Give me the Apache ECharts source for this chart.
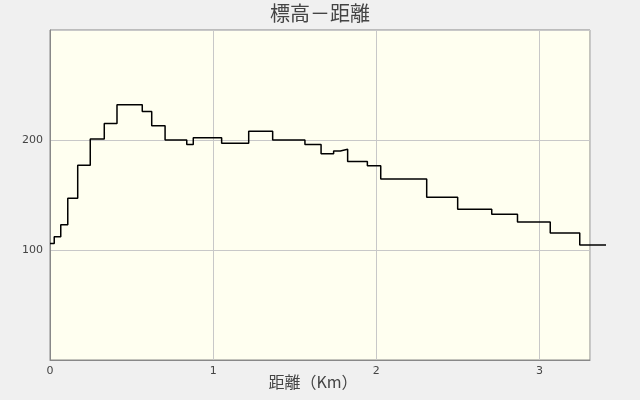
<!DOCTYPE html>
<html>
<head>
<meta charset="utf-8">
<script src="https://cdn.jsdelivr.net/npm/echarts@6/dist/echarts.min.js"></script>
<style>
html, body { margin: 0; padding: 0; background: #f0f0f0; }
#main { width: 640px; height: 400px; }
</style>
</head>
<body>
<div id="main"></div>
<script>
// 距離 (km) と 標高 (m)
var distKm = [0.0, 0.026, 0.066, 0.109, 0.170, 0.247, 0.333, 0.411, 0.566, 0.624,
              0.706, 0.839, 0.879, 1.053, 1.219, 1.366, 1.564, 1.663, 1.740, 1.781,
              1.826, 1.947, 2.029, 2.311, 2.501, 2.710, 2.868, 3.069, 3.250, 3.411];
var elevM = [106, 112, 123, 147, 177, 201, 215, 232, 226, 213,
             200, 196, 202, 197, 208, 200, 196, 187.5, 190, 191.5,
             180.5, 176.5, 164.5, 148, 137, 132.5, 125.5, 115.5, 104.5, 104.5];
var xTicks = [0, 1, 2, 3];
var yTicks = [100, 200];

var points = [];
for (var i = 0; i < distKm.length; i++) {
    points.push([distKm[i], elevM[i]]);
}

var xMax = 3.31;   // 表示範囲
var lastKm = distKm[distKm.length - 1];
// 線は枠の外まではみ出すので、同じ縮尺の透明なグリッドに描く
var plotW = 540;
var extraW = Math.round(plotW * (lastKm - xMax) / xMax);

var option = {
    backgroundColor: '#f0f0f0',
    animation: false,
    title: {
        text: '標高－距離',
        left: 'center',
        top: -2,
        textStyle: {
            color: '#444',
            fontFamily: 'Noto Sans CJK JP',
            fontSize: 20,
            fontWeight: 'normal'
        }
    },
    grid: [
        {
            left: 50,
            right: 50,
            top: 30,
            bottom: 40,
            outerBoundsMode: 'none',
            containLabel: false,
            show: true,
            backgroundColor: '#fffff0',
            borderColor: '#888',
            borderWidth: 1
        },
        {
            left: 50,
            right: 50 - extraW,
            top: 30,
            bottom: 40,
            outerBoundsMode: 'none',
            containLabel: false,
            show: false
        }
    ],
    xAxis: [
        {
            type: 'value',
            gridIndex: 0,
            min: 0,
            max: xMax,
            interval: 1,
            name: '距離（Km）',
            nameLocation: 'middle',
            nameGap: 14,
            nameMoveOverlap: false,
            nameTextStyle: {
                color: '#444',
                fontFamily: 'Noto Sans CJK JP',
                fontSize: 16,
                padding: [0, 14, 0, 0]
            },
            axisLine: { show: true, lineStyle: { color: '#888' } },
            axisTick: { show: false },
            axisLabel: {
                showMaxLabel: false,
                margin: 6,
                color: '#444',
                fontFamily: 'DejaVu Sans',
                fontSize: 11,
                formatter: function (v) {
                    return xTicks.indexOf(v) >= 0 ? String(v) : '';
                }
            },
            splitLine: { show: true, lineStyle: { color: '#c8c8c8', width: 1 } }
        },
        {
            type: 'value',
            gridIndex: 1,
            min: 0,
            max: lastKm,
            show: false
        }
    ],
    yAxis: [
        {
            type: 'value',
            gridIndex: 0,
            min: 0,
            max: 300,
            interval: 100,
            axisLine: { show: true, lineStyle: { color: '#888' } },
            axisTick: { show: false },
            axisLabel: {
                showMinLabel: false,
                showMaxLabel: false,
                margin: 7,
                color: '#444',
                fontFamily: 'DejaVu Sans',
                fontSize: 11,
                formatter: function (v) {
                    return yTicks.indexOf(v) >= 0 ? String(v) : '';
                }
            },
            splitLine: { show: true, lineStyle: { color: '#c8c8c8', width: 1 } }
        },
        {
            type: 'value',
            gridIndex: 1,
            min: 0,
            max: 300,
            show: false
        }
    ],
    series: [
        {
            name: '標高',
            type: 'line',
            xAxisIndex: 1,
            yAxisIndex: 1,
            step: 'end',
            clip: false,
            showSymbol: false,
            symbol: 'none',
            lineStyle: { color: '#000', width: 1.5 },
            data: points
        }
    ]
};

var myChart = echarts.init(document.getElementById('main'));
myChart.setOption(option);
</script>
</body>
</html>
